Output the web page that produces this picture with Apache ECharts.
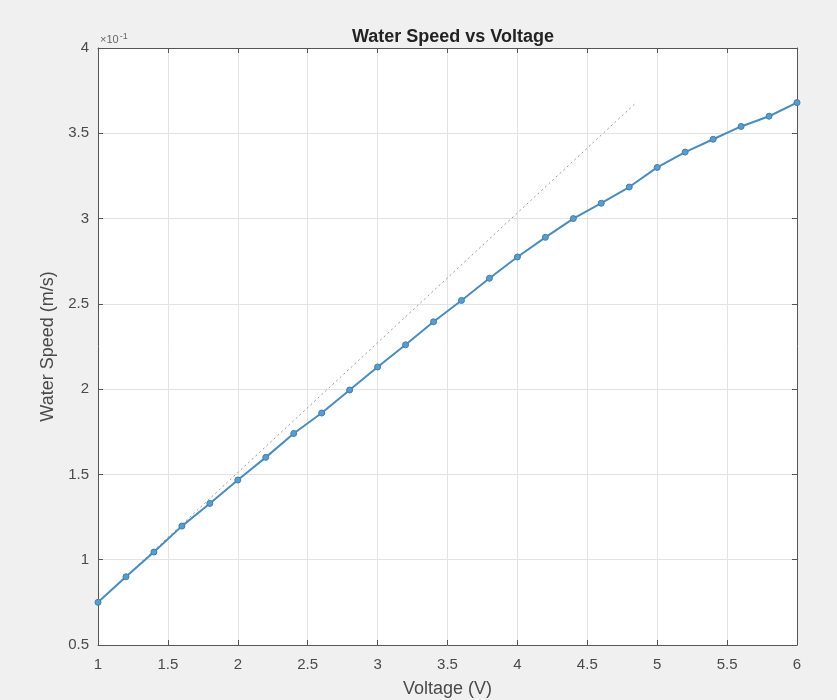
<!DOCTYPE html>
<html><head><meta charset="utf-8">
<script src="https://cdn.jsdelivr.net/npm/echarts@6/dist/echarts.min.js"></script>
<style>html,body{margin:0;padding:0;background:#f0f0f0;}#c{width:837px;height:700px;}</style>
</head><body><div id="c"></div>
<script>
const voltage = [1.0,1.2,1.4,1.6,1.8,2.0,2.2,2.4,2.6,2.8,3.0,3.2,3.4,3.6,3.8,4.0,4.2,4.4,4.6,4.8,5.0,5.2,5.4,5.6,5.8,6.0];
const speed = [0.75,0.90,1.045,1.197,1.33,1.467,1.60,1.74,1.86,1.995,2.13,2.26,2.395,2.52,2.65,2.775,2.89,3.00,3.09,3.185,3.30,3.39,3.465,3.54,3.60,3.68];
const refLineX = [1.0, 4.85];
const refLineY = [0.75, 3.68];
const xTicks = {min:1, max:6, interval:0.5};
const yTicks = {min:0.5, max:4, interval:0.5};

const chart = echarts.init(document.getElementById('c'));
const fontFam = 'Liberation Sans, Arial, Helvetica, sans-serif';
const axisCol = '#555555';
const labCol = '#4a4a4a';
const gridCol = '#e3e3e3';
function ax(extra){return Object.assign({
  type:'value',
  axisLine:{show:true,onZero:false,lineStyle:{color:axisCol,width:1}},
  axisTick:{show:true,inside:true,length:5,lineStyle:{color:axisCol}},
  splitLine:{show:false},
}, extra);}
chart.setOption({
  backgroundColor:'#f0f0f0',
  animation:false,
  title:{text:'Water Speed vs Voltage',left:448,top:23,textAlign:'center',
    textStyle:{fontFamily:fontFam,fontSize:18,fontWeight:'bold',color:'#222'}},
  grid:{left:98,right:40,top:48,bottom:55,show:true,backgroundColor:'#ffffff',borderWidth:0,
    containLabel:false,outerBoundsMode:'none'},
  xAxis:[
    ax({min:xTicks.min,max:xTicks.max,interval:xTicks.interval,position:'bottom',
      name:'Voltage (V)',nameLocation:'middle',nameGap:35,
      nameTextStyle:{fontFamily:fontFam,fontSize:18,color:labCol},
      axisLabel:{fontFamily:fontFam,fontSize:15,color:labCol,margin:12},
      splitLine:{show:true,lineStyle:{color:gridCol,width:1}}}),
    ax({min:xTicks.min,max:xTicks.max,interval:xTicks.interval,position:'top',axisLabel:{show:false}})
  ],
  yAxis:[
    ax({min:yTicks.min,max:yTicks.max,interval:yTicks.interval,position:'left',
      name:'Water Speed (m/s)',nameLocation:'middle',nameGap:37,
      nameTextStyle:{fontFamily:fontFam,fontSize:18,color:labCol},
      axisLabel:{fontFamily:fontFam,fontSize:15,color:labCol,margin:9},
      splitLine:{show:true,lineStyle:{color:gridCol,width:1}}}),
    ax({min:yTicks.min,max:yTicks.max,interval:yTicks.interval,position:'right',axisLabel:{show:false}})
  ],
  graphic:[{type:'text',left:100,top:32,style:{
    text:'{a|×10}{b|-1}',rich:{a:{fontFamily:fontFam,fontSize:11,fill:'#666'},b:{fontFamily:fontFam,fontSize:9,fill:'#666',verticalAlign:'top',padding:[0,0,7,1]}}}}],
  series:[
    {type:'line',data:refLineX.map((x,i)=>[x,refLineY[i]]),showSymbol:false,
      lineStyle:{color:'#9a9a9a',width:1,type:[2,3]},z:2},
    {type:'line',data:voltage.map((x,i)=>[x,speed[i]]),symbol:'circle',symbolSize:6,
      itemStyle:{color:'#5b9cc8',borderColor:'#3f7fae',borderWidth:1},
      lineStyle:{color:'#4a8dbd',width:2},z:3}
  ]
});
</script></body></html>
